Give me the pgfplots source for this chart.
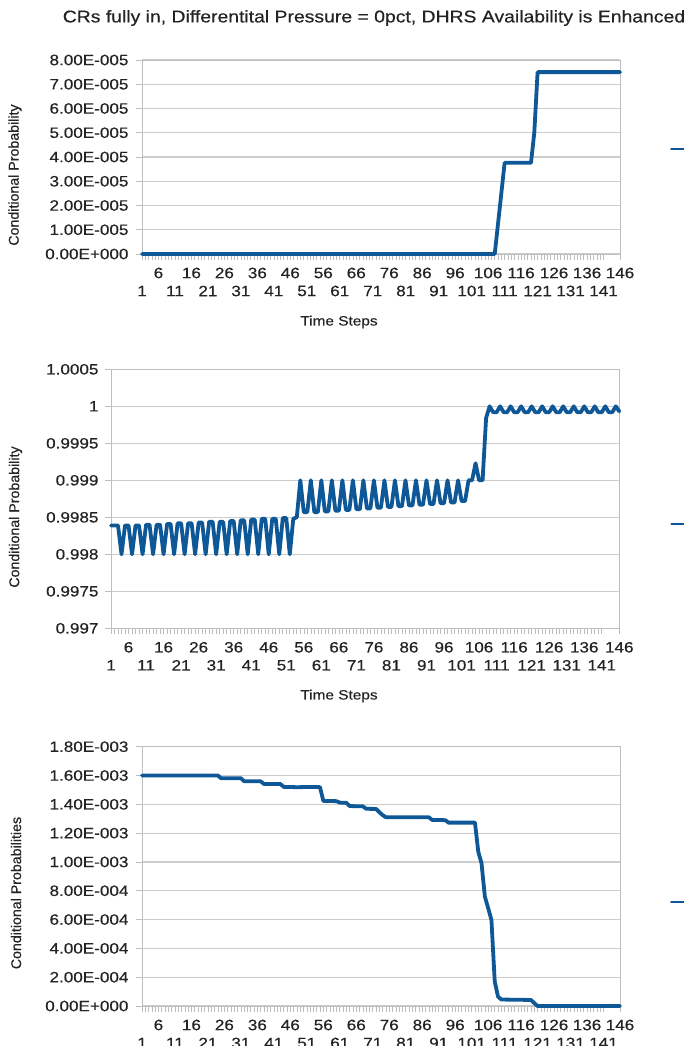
\documentclass[border=0pt]{standalone}
\usepackage{fontspec}
\setmainfont{Liberation Sans}[FakeStretch=1.14, FakeBold=0.4]
\newfontfamily\plainfont{Liberation Sans}[FakeBold=0.4]
\usepackage{pgfplots}
\usepackage{pgfplotstable}
\pgfplotsset{compat=1.18}

\definecolor{serie}{RGB}{14,88,152}
\definecolor{gridc}{RGB}{205,205,205}
\definecolor{framec}{RGB}{190,190,190}
\definecolor{txt}{RGB}{35,35,35}

\newcommand\ticksize{\fontsize{15}{18}\selectfont}
\newcommand\titlesize{\fontsize{17}{20}\selectfont}
\newcommand\axtitlesize{\fontsize{13.5}{16}\selectfont}
\newcommand\ylabsize{\plainfont\fontsize{14.2}{17}\selectfont}

% Conditional probability, control rods fully in
\pgfplotstableread{
x y
1   0
108 0
109 0.0000125
110 0.0000250
111 0.0000376
119 0.0000376
120 0.0000500
121 0.0000750
146 0.0000750
}\crin

% Conditional probability of the second end state
\pgfplotstableread{
x y
1 0.99839
2 0.99839
3 0.99839
4 0.99800
5 0.99839
6 0.99839
7 0.99800
8 0.99839
9 0.99839
10 0.99800
11 0.99840
12 0.99840
13 0.99800
14 0.99840
15 0.99840
16 0.99800
17 0.99841
18 0.99841
19 0.99800
20 0.99842
21 0.99842
22 0.99800
23 0.99842
24 0.99842
25 0.99800
26 0.99843
27 0.99843
28 0.99800
29 0.99844
30 0.99844
31 0.99800
32 0.99844
33 0.99844
34 0.99800
35 0.99845
36 0.99845
37 0.99800
38 0.99846
39 0.99846
40 0.99800
41 0.99847
42 0.99847
43 0.99800
44 0.99848
45 0.99848
46 0.99800
47 0.99848
48 0.99848
49 0.99800
50 0.99849
51 0.99849
52 0.99800
53 0.99848
54 0.99850
55 0.99900
56 0.99857
57 0.99857
58 0.99900
59 0.99857
60 0.99857
61 0.99900
62 0.99858
63 0.99858
64 0.99900
65 0.99859
66 0.99859
67 0.99900
68 0.99860
69 0.99860
70 0.99900
71 0.99861
72 0.99861
73 0.99900
74 0.99862
75 0.99862
76 0.99900
77 0.99863
78 0.99863
79 0.99900
80 0.99864
81 0.99864
82 0.99900
83 0.99865
84 0.99865
85 0.99900
86 0.99866
87 0.99866
88 0.99900
89 0.99867
90 0.99867
91 0.99900
92 0.99868
93 0.99868
94 0.99900
95 0.99869
96 0.99869
97 0.99900
98 0.99870
99 0.99870
100 0.99900
101 0.99872
102 0.99872
103 0.99900
104 0.99900
105 0.99923
106 0.99900
107 0.99900
108 0.99984
109 1.00000
110 0.99992
111 0.99992
112 1.00000
113 0.99992
114 0.99992
115 1.00000
116 0.99992
117 0.99992
118 1.00000
119 0.99992
120 0.99992
121 1.00000
122 0.99992
123 0.99992
124 1.00000
125 0.99992
126 0.99992
127 1.00000
128 0.99992
129 0.99992
130 1.00000
131 0.99992
132 0.99992
133 1.00000
134 0.99992
135 0.99992
136 1.00000
137 0.99992
138 0.99992
139 1.00000
140 0.99992
141 0.99992
142 1.00000
143 0.99992
144 0.99992
145 1.00000
146 0.99993
}\second

% Conditional probabilities of the third end state
\pgfplotstableread{
x y
1   0.001600
24  0.001600
25  0.001581
31  0.001581
32  0.001560
37  0.001560
38  0.001541
43  0.001541
44  0.001521
48  0.001519
54  0.001521
55  0.001519
56  0.001424
60  0.001422
61  0.001412
63  0.001410
64  0.001388
68  0.001386
69  0.001369
72  0.001368
73  0.001345
74  0.001325
75  0.001310
88  0.001310
89  0.001292
93  0.001290
94  0.001273
102 0.001273
103 0.001072
104 0.000990
105 0.000760
106 0.000680
107 0.000597
108 0.000170
109 0.000065
110 0.000045
119 0.000042
120 0.000020
121 0.000000
146 0.000000
}\third

\pgfplotsset{
  panel/.style={
    scale only axis, clip=false,
    xmin=1, xmax=146,
    axis line style={draw=framec, line width=1pt},
    tick pos=left, tick align=outside,
    major tick length=6pt, minor tick length=6pt,
    tick style={framec, line width=0.6pt},
    minor tick style={framec, line width=0.6pt},
    xtick={1,11,...,141}, minor x tick num=9,
    extra x ticks={6,16,...,146},
    extra x tick style={grid=none, tick label style={yshift=18pt}},
    ymajorgrids, grid style={gridc, line width=1.2pt},
    /pgf/number format/assume math mode=true,
    xticklabel style={font=\ticksize, text=txt, anchor=center, yshift=-31pt},
    yticklabel style={font=\ticksize, text=txt, anchor=east, xshift=-4pt},
    scaled y ticks=false,
    legend style={draw=none, fill=none, inner sep=0pt, outer sep=0pt,
                  anchor=west, font=\ticksize},
    legend image code/.code={\draw[serie, line width=2pt] (0pt,0pt) -- (24pt,0pt);},
  },
  curve/.style={serie, line width=3.8pt, line join=round, line cap=round},
}

\begin{document}
\begin{tikzpicture}[x=1pt,y=1pt]
\useasboundingbox (0,0) rectangle (684,-1046);
\clip (0,0) rectangle (684,-1046);

\node[font=\titlesize, text=txt] at (374,-18)
  {CRs fully in, Differentital Pressure = 0pct, DHRS Availability is Enhanced};

% --- top panel ---
\begin{axis}[panel, at={(142pt,-254pt)}, anchor=south west,
  width=478pt, height=194pt,
  ymin=0, ymax=0.00008,
  ytick={0,0.00001,0.00002,0.00003,0.00004,0.00005,0.00006,0.00007,0.00008},
  yticklabels={0.00E+000,1.00E-005,2.00E-005,3.00E-005,4.00E-005,5.00E-005,6.00E-005,7.00E-005,8.00E-005},
  legend style={at={(1,0.54)}, xshift=50pt}]
\addplot[curve] table[x=x,y=y] {\crin};
\addlegendentry{}
\end{axis}
\node[font=\axtitlesize, text=txt] at (339,-322) {Time Steps};
\node[font=\ylabsize, text=txt, rotate=90] at (15,-175) {Conditional Probability};

% --- middle panel ---
\begin{axis}[panel, at={(111pt,-628.3pt)}, anchor=south west,
  width=508.3pt, height=259pt,
  ymin=0.997, ymax=1.0005,
  ytick={0.997,0.9975,0.998,0.9985,0.999,0.9995,1,1.0005},
  yticklabels={0.997,0.9975,0.998,0.9985,0.999,0.9995,1,1.0005},
  yticklabel style={xshift=1pt},
  legend style={at={(1,0.403)}, xshift=51pt}]
\addplot[curve] table[x=x,y=y] {\second};
\addlegendentry{}
\end{axis}
\node[font=\axtitlesize, text=txt] at (339,-696) {Time Steps};
\node[font=\ylabsize, text=txt, rotate=90] at (15.5,-517) {Conditional Probability};

% --- bottom panel ---
\begin{axis}[panel, at={(142pt,-1006pt)}, anchor=south west,
  width=478pt, height=259.3pt,
  ymin=0, ymax=0.0018,
  ytick={0,0.0002,0.0004,0.0006,0.0008,0.001,0.0012,0.0014,0.0016,0.0018},
  yticklabels={0.00E+000,2.00E-004,4.00E-004,6.00E-004,8.00E-004,1.00E-003,1.20E-003,1.40E-003,1.60E-003,1.80E-003},
  legend style={at={(1,0.402)}, xshift=50pt}]
\addplot[curve] table[x=x,y=y] {\third};
\addlegendentry{}
\end{axis}
\node[font=\ylabsize, text=txt, rotate=90] at (16,-893) {Conditional Probabilities};
\end{tikzpicture}
\end{document}
